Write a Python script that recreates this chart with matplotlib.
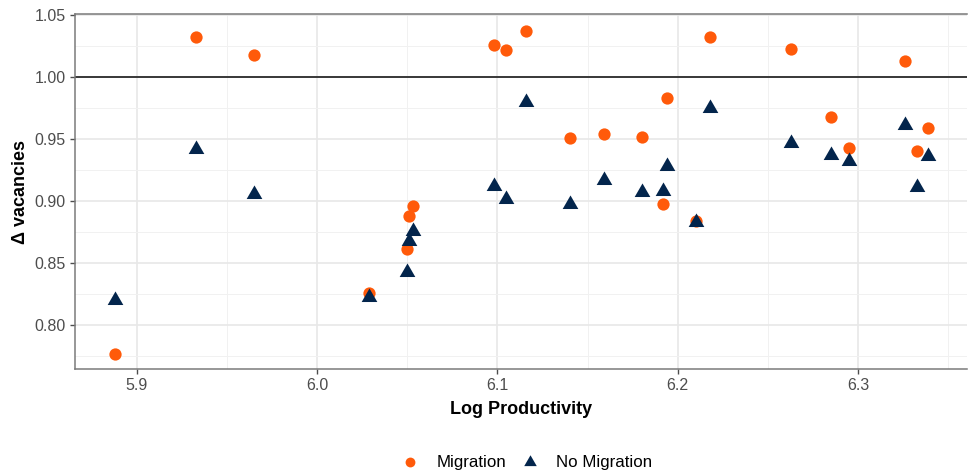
import matplotlib.pyplot as plt
from matplotlib.ticker import MultipleLocator
import numpy as np

plt.rcParams['font.family'] = ['Liberation Sans', 'DejaVu Sans']

# log productivity per region, with delta vacancies for each scenario
log_prod = [5.888, 5.933, 5.965, 6.029, 6.050, 6.051, 6.053, 6.098, 6.105, 6.116,
            6.140, 6.159, 6.180, 6.192, 6.194, 6.210, 6.218, 6.263, 6.285, 6.295,
            6.326, 6.333, 6.339]
migration = [0.777, 1.032, 1.018, 0.826, 0.861, 0.888, 0.896, 1.026, 1.022, 1.037,
             0.951, 0.954, 0.952, 0.898, 0.983, 0.884, 1.032, 1.023, 0.968, 0.943,
             1.013, 0.940, 0.959]
no_migration = [0.820, 0.942, 0.906, 0.823, 0.843, 0.868, 0.876, 0.912, 0.902, 0.980,
                0.898, 0.917, 0.907, 0.908, 0.928, 0.883, 0.975, 0.947, 0.937, 0.932,
                0.961, 0.911, 0.936]

orange = '#FF5A0A'
navy = '#03254C'

# equilateral triangle like ggplot shape 17
tri = [(-1, -0.577), (1, -0.577), (0, 1.155), (-1, -0.577)]

fig = plt.figure(figsize=(9.68, 4.72), dpi=100)
ax = fig.add_axes([0.0775, 0.2182, 0.9215, 0.7521])

ax.axhline(1.0, color='#1a1a1a', lw=1.2, zorder=2)
ax.scatter(log_prod, migration, s=78, color=orange, marker='o', linewidths=0,
           label='Migration', zorder=3)
ax.scatter(log_prod, no_migration, s=170, color=navy, marker=tri, linewidths=0,
           label='No Migration', zorder=4)

ax.set_xlim(5.8657, 6.3605)
ax.set_ylim(0.7646, 1.0508)
ax.xaxis.set_major_locator(MultipleLocator(0.1))
ax.xaxis.set_minor_locator(MultipleLocator(0.05))
ax.yaxis.set_major_locator(MultipleLocator(0.05))
ax.yaxis.set_minor_locator(MultipleLocator(0.025))
ax.xaxis.set_major_formatter(plt.FormatStrFormatter('%.1f'))
ax.yaxis.set_major_formatter(plt.FormatStrFormatter('%.2f'))

ax.grid(which='major', color='#e8e8e8', lw=1.2, zorder=0)
ax.grid(which='minor', color='#f1f1f1', lw=0.7, zorder=0)
ax.set_axisbelow(True)
for s in ax.spines.values():
    s.set_color('#7a7a7a')
    s.set_linewidth(1.1)
ax.spines['right'].set_visible(False)

ax.tick_params(which='major', length=3.5, width=1, color='#4d4d4d',
               labelsize=11.5, labelcolor='#4d4d4d', pad=3)
ax.tick_params(which='minor', length=0)

ax.set_xlabel('Log Productivity', fontsize=13, fontweight='bold', labelpad=6)
ax.set_ylabel('Δ vacancies', fontsize=13, fontweight='bold', labelpad=4)

fig.legend(loc='center', bbox_to_anchor=(0.540, 0.021), ncol=2, frameon=False,
           fontsize=12.2, handletextpad=0.55, columnspacing=0.4, markerscale=0.8)

fig.savefig('out.png', dpi=100)
